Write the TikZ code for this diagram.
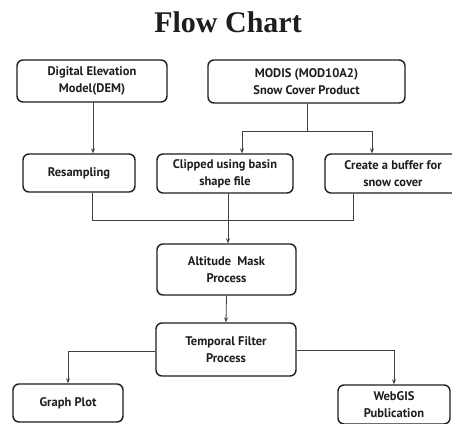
\documentclass[tikz,border=0pt]{standalone}
\usepackage{fontspec}
\setmainfont{Liberation Serif}
\newfontfamily\boxfont{PT Sans}
\usetikzlibrary{arrows.meta}
\definecolor{ink}{HTML}{1E1E1E}
\begin{document}
\begin{tikzpicture}[x=1pt,y=-1pt,
  box/.style={draw=ink, line width=1.4pt, rounded corners=6pt, align=center,
    font=\boxfont\bfseries\fontsize{12.5}{17}\selectfont, text=ink, inner sep=0pt},
  conn/.style={draw=ink!85, line width=0.8pt},
  arr/.style={conn, -{Stealth[length=5pt,width=4pt]}}]
\useasboundingbox (0,0) rectangle (452,423);
\clip (0,0) rectangle (452,423);
\fill[white] (0,0) rectangle (452,423);
\node[font=\bfseries\fontsize{30}{32}\selectfont, text=ink] (title) at (228,22) {Flow Chart};
\node[box, minimum width=150pt, minimum height=42pt] (dem) at (92,81) {Digital Elevation\\Model(DEM)};
\node[box, minimum width=197pt, minimum height=43pt] (modis) at (306.5,81.5) {MODIS (MOD10A2)\\Snow Cover Product};
\node[box, minimum width=112pt, minimum height=38pt] (resamp) at (79,173) {Resampling};
\node[box, minimum width=136pt, minimum height=39pt] (clip) at (225,173.5) {Clipped using basin\\shape file};
\node[box, minimum width=136pt, minimum height=39pt] (buffer) at (393,173.5) {Create a buffer for\\snow cover};
\node[box, minimum width=139pt, minimum height=51pt] (alt) at (226.5,269.5) {Altitude\ \ Mask\\Process};
\node[box, minimum width=140pt, minimum height=53pt] (temp) at (226,349.5) {Temporal Filter\\Process};
\node[box, minimum width=110pt, minimum height=38pt] (graph) at (68,403) {Graph Plot};
\node[box, minimum width=112pt, minimum height=39pt] (web) at (394,404.5) {WebGIS\\Publication};
% DEM to resampling
\coordinate (demo) at (93,102);
\draw[arr] (demo) -- (demo |- resamp.north);
% MODIS split
\coordinate (msplit) at (307,131);
\coordinate (mleft) at (242,131);
\coordinate (mright) at (372,131);
\draw[conn] (modis.south -| msplit) -- (msplit);
\draw[conn] (mleft) -- (mright);
\draw[arr] (mleft) -- (mleft |- clip.north);
\draw[arr] (mright) -- (mright |- buffer.north);
% merge to altitude
\coordinate (rl) at (92,220);
\coordinate (rr) at (353,220);
\draw[conn] (rl |- resamp.south) -- (rl) -- (rr) -- (rr |- buffer.south);
\coordinate (cx) at (228,193);
\draw[arr] (cx |- clip.south) -- (cx |- alt.north);
% altitude to temporal
\draw[arr] (alt.south) -- (temp.north);
% temporal outputs
\coordinate (tl) at (68,351);
\coordinate (tr) at (394,350);
\draw[arr] (temp.west |- tl) -- (tl) -- (graph.north);
\draw[arr] (temp.east |- tr) -- (tr) -- (tr |- web.north);
\end{tikzpicture}
\end{document}
